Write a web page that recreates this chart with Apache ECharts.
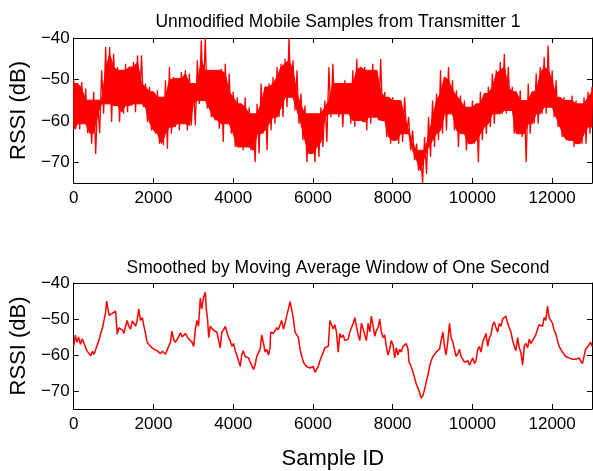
<!DOCTYPE html>
<html>
<head>
<meta charset="utf-8">
<script src="https://cdn.jsdelivr.net/npm/echarts@6/dist/echarts.min.js"></script>
<style>
  html, body { margin: 0; padding: 0; background: #fff; }
  #chart { width: 593px; height: 471px; }
</style>
</head>
<body>
<div id="chart"></div>
<script>
// Raw RSSI: upper and lower extent of the noisy trace per 100-sample column (dB)
const RAW_STEP = 100;
const rawHigh = [
  -50, -51, -50.6, -52.2, -55, -53, -55, -47.8, -42.2, -42.2,
  -43.8, -47, -47.8, -46.2, -47, -45.8, -44.2, -44.2, -51, -51.8,
  -53, -52.6, -54.3, -50.2, -47, -49.4, -49.8, -48.2, -47.8, -48.6,
  -51, -45.4, -40.6, -40, -47.8, -47.8, -47.8, -47.4, -46.2, -48.6,
  -53, -54.3, -55.9, -54.3, -56.7, -58.3, -55.9, -51, -51.8, -51,
  -49.4, -47, -46.2, -45, -40, -45.4, -47.8, -53.4, -56.3, -58.3,
  -58.3, -58.3, -56.7, -55.1, -47, -46.2, -51, -51, -50.2, -51,
  -47.8, -45, -47, -47, -47.8, -46.2, -47.8, -45, -53, -54.3,
  -54.3, -55.1, -55.1, -54.3, -59.1, -62.3, -65.5, -67.1, -63.9, -59.1,
  -55.1, -53.4, -47.8, -49.4, -47, -50.2, -52.6, -53.9, -55.1, -56.7,
  -55.1, -55.9, -53, -53.4, -51.8, -48.6, -47.8, -45.8, -43.8, -47,
  -51.8, -53, -52.6, -55.1, -51, -53, -48.6, -47, -44.6, -41.8,
  -47.8, -50.2, -54.3, -54.3, -55.1, -53.9, -55.1, -55.9, -54.3, -53,
  -51.8
];
const rawLow = [
  -62, -62, -60.7, -63, -65.5, -68, -63, -58.3, -55.9, -60.3,
  -56.3, -60.3, -58.3, -57.9, -56.3, -57.9, -55.9, -56.7, -60.3, -62.3,
  -63.1, -65.5, -65.9, -66.7, -63.1, -61.5, -62.3, -60.7, -62.3, -61.1,
  -61.1, -55.9, -55.1, -57, -59.1, -59.9, -61.9, -65.1, -60.7, -63.1,
  -66.3, -66.3, -67.1, -66.3, -67.1, -70, -67.9, -63.1, -67.1, -62.3,
  -60.7, -59.1, -59.1, -56.7, -54.3, -57.5, -60.7, -64.7, -70, -67.9,
  -70, -68.7, -66.3, -65.1, -59.1, -58.3, -59.1, -61.5, -58.3, -60.7,
  -61.5, -59.9, -60.3, -62.3, -60.7, -59.1, -59.9, -59.9, -63.9, -65.5,
  -64.7, -65.5, -65.1, -63.1, -67.1, -69.5, -72, -75, -72.8, -68.7,
  -66.3, -64.7, -63.1, -62.3, -58.3, -62.3, -66.3, -63.1, -67.1, -65.5,
  -65.5, -70, -64.7, -63.1, -61.5, -60.7, -58.3, -58.3, -58.3, -57.5,
  -63.1, -63.1, -63.9, -70, -63.1, -60.7, -60.7, -58.3, -58.3, -56.7,
  -59.1, -61.5, -63.9, -64.7, -64.7, -66.3, -65.5, -65.5, -65.5, -63.1,
  -61.5
];

// Smoothed RSSI (moving average over one second): sample IDs and values (dB)
const smoothIds = [
  0, 40, 80, 120, 170, 210, 250, 300, 340, 380, 425, 470, 510, 550, 590, 630, 675, 720, 760, 800,
  825, 860, 890, 925, 960, 1000, 1050, 1090, 1130, 1175, 1220, 1260, 1300, 1340, 1380, 1425, 1470, 1510, 1550, 1590,
  1630, 1675, 1720, 1760, 1800, 1840, 1880, 1925, 1970, 2010, 2050, 2090, 2130, 2175, 2220, 2260, 2300, 2340, 2380, 2425,
  2460, 2510, 2550, 2590, 2630, 2675, 2720, 2760, 2800, 2840, 2880, 2925, 2970, 3010, 3050, 3090, 3130, 3175, 3210, 3260,
  3300, 3325, 3360, 3385, 3425, 3470, 3510, 3550, 3590, 3635, 3675, 3715, 3760, 3800, 3840, 3885, 3925, 3965, 4010, 4050,
  4090, 4135, 4175, 4215, 4250, 4300, 4340, 4385, 4425, 4460, 4510, 4550, 4590, 4635, 4675, 4715, 4760, 4800, 4840, 4885,
  4925, 4940, 5010, 5050, 5090, 5130, 5175, 5215, 5260, 5300, 5340, 5385, 5425, 5465, 5510, 5550, 5590, 5635, 5675, 5715,
  5760, 5800, 5840, 5885, 5925, 5965, 6010, 6050, 6090, 6135, 6175, 6215, 6260, 6300, 6340, 6385, 6425, 6465, 6510, 6550,
  6590, 6635, 6675, 6715, 6760, 6800, 6840, 6885, 6925, 6965, 7010, 7050, 7090, 7135, 7175, 7215, 7260, 7300, 7340, 7385,
  7425, 7465, 7510, 7550, 7590, 7635, 7675, 7715, 7760, 7800, 7840, 7885, 7925, 7965, 8010, 8050, 8090, 8135, 8175, 8215,
  8260, 8300, 8340, 8385, 8410, 8465, 8510, 8550, 8590, 8635, 8675, 8715, 8760, 8800, 8840, 8885, 8925, 8965, 9010, 9050,
  9090, 9135, 9175, 9215, 9260, 9300, 9340, 9385, 9425, 9465, 9510, 9550, 9590, 9635, 9675, 9715, 9760, 9800, 9840, 9885,
  9925, 9965, 10010, 10050, 10090, 10135, 10175, 10215, 10260, 10300, 10340, 10385, 10425, 10465, 10510, 10550, 10590, 10635, 10675, 10715,
  10760, 10800, 10840, 10885, 10925, 10965, 11010, 11050, 11090, 11135, 11175, 11215, 11260, 11300, 11340, 11385, 11425, 11465, 11510, 11550,
  11590, 11635, 11675, 11715, 11760, 11800, 11840, 11885, 11925, 11965, 12010, 12050, 12090, 12135, 12175, 12215, 12260, 12300, 12340, 12385,
  12425, 12465, 12510, 12550, 12590, 12635, 12675, 12715, 12760, 12800, 12840, 12885, 12925, 12965, 13000
];
const smoothVals = [
  -57.5, -54.5, -56.5, -55, -57, -55.5, -56.5, -58, -59, -59.5, -60.2, -59, -59.8, -58.5, -58, -56, -54, -52.5, -50.4, -48,
  -45, -47.4, -49, -49.4, -48.5, -49, -47.8, -54.2, -52.5, -52, -53, -54, -52, -50.4, -52, -52.8, -50.5, -51.2, -52, -50.4,
  -47.2, -50.4, -49.6, -52, -54, -56.4, -57, -57.6, -58, -58.4, -58, -58.8, -59, -59.6, -59, -59.2, -59.8, -59.6, -57.6, -56.6,
  -53.4, -55.8, -56.5, -56.2, -55, -53.8, -55, -55.2, -54, -54.4, -55.5, -56, -56.5, -57.6, -52.8, -50.4, -52, -44.2, -47.2, -43.8,
  -42.6, -47.2, -50.4, -55.2, -52, -52.5, -53.2, -53, -53.6, -54, -58, -53.6, -53, -52, -51.6, -55.2, -56, -57.6, -56.8, -58.8,
  -60, -61.6, -63.2, -60, -58.8, -60.4, -60.4, -60.8, -62, -62.8, -64, -62.8, -60.4, -60, -58.4, -54.4, -56.8, -59.2, -58.4, -60,
  -58, -53.6, -54, -54.4, -52.4, -53, -52.8, -50.4, -52.8, -51.2, -49.2, -47.2, -45.2, -47.2, -50, -53.6, -54, -55.2, -58.4, -58.8,
  -62, -62.4, -63.2, -62.8, -63.6, -64, -63.2, -64.8, -64, -63.2, -61.6, -60.4, -59.2, -58, -58.4, -57.6, -50.4, -50.4, -52.8, -51.6,
  -53.6, -59.2, -54, -55.2, -54.4, -56, -56.4, -55.6, -53.6, -53.2, -51.2, -49.6, -52, -54.4, -56, -51.2, -52.8, -54.4, -56, -51.2,
  -53.6, -49.2, -52, -54.8, -53.2, -52.4, -50, -53.6, -55.2, -54.4, -57.6, -60, -58.4, -56, -57.2, -60.8, -58, -60, -58.4, -59.2,
  -57.6, -58, -56.8, -58.4, -62, -63.2, -64.8, -66.4, -68, -69.2, -70.4, -72, -71.2, -69.6, -67.6, -65.6, -63.2, -61.6, -60.4, -60,
  -59.2, -58.8, -58.4, -56, -53.6, -57.6, -60, -56, -51.2, -55.2, -56.4, -58.4, -60.4, -59.6, -58.4, -60.4, -60.8, -62, -62.4, -61.6,
  -62.8, -63.2, -60.8, -62.4, -61.6, -58.4, -57.6, -59.2, -56.4, -55.2, -54, -57.6, -55.2, -54.4, -51.6, -50.8, -52.4, -53.6, -51.2, -52,
  -50, -50.4, -49.2, -51.2, -50.8, -53.6, -56, -57.6, -58.8, -55.2, -58, -59.2, -62.8, -57.6, -56.8, -58, -55.6, -56.8, -56, -55.2,
  -54.4, -52.8, -51.6, -51.2, -52, -49.6, -50.4, -46.4, -49.6, -49.2, -51.2, -53.2, -54, -56, -57.6, -58.4, -59.2, -59.6, -60.4, -60,
  -60.8, -60.4, -61.2, -60.8, -61.2, -61.6, -60.8, -61.6, -62.4, -60.4, -58.4, -58, -57.2, -56.4, -57.6
];

// Axis ticks and labels
const xMin = 0, xMax = 13000, xStep = 2000;
const yMin = -75, yMax = -40;
const yTicks = [-70, -60, -50, -40];

const titles = [
  'Unmodified Mobile Samples from Transmitter 1',
  'Smoothed by Moving Average Window of One Second'
];
const yLabel = 'RSSI (dB)';
const xLabel = 'Sample ID';

// Zigzag between each column's high and low: the spikes of the raw trace
const rawZigzag = [];
rawHigh.forEach((hi, i) => {
  rawZigzag.push([i * RAW_STEP, hi]);
  rawZigzag.push([i * RAW_STEP + RAW_STEP / 2, rawLow[i]]);
});
const smoothPts = smoothIds.map((s, i) => [s, smoothVals[i]]);

const RED = '#ff0000';
const FONT = 'Liberation Sans, Arial, Helvetica, sans-serif';
const TICK_FS = 17;
const grids = [
  { left: 73, right: 1, top: 38, height: 145 },
  { left: 73, right: 1, top: 283, height: 146 }
];

// Dense core of the raw trace: the part of each column that its neighbours
// also cover, filled solid; the isolated extremes stay as thin spikes.
function renderCore(params, api) {
  const n = rawHigh.length;
  const top = [], bot = [];
  for (let i = 0; i < n; i++) {
    const a = Math.max(0, i - 1), b = Math.min(n - 1, i + 1);
    const hiCore = Math.min(rawHigh[a], rawHigh[i], rawHigh[b]);
    const loCore = Math.max(rawLow[a], rawLow[i], rawLow[b]);
    top.push(api.coord([i * RAW_STEP, hiCore]));
    bot.push(api.coord([i * RAW_STEP, loCore]));
  }
  return {
    type: 'polygon',
    shape: { points: top.concat(bot.reverse()) },
    style: { fill: RED, stroke: RED, lineWidth: 1 }
  };
}

function xAxes(gi, withName) {
  return [
    {
      type: 'value', gridIndex: gi, min: xMin, max: xMax, interval: xStep,
      position: 'bottom',
      axisLine: { show: true, onZero: false, lineStyle: { color: '#000', width: 1 } },
      axisTick: { show: true, inside: true, length: 5, lineStyle: { color: '#000' } },
      axisLabel: { color: '#000', fontSize: TICK_FS, fontFamily: FONT, margin: 7,
        formatter: v => String(v) },
      splitLine: { show: false },
      name: withName ? xLabel : '',
      nameLocation: 'middle', nameGap: 39,
      nameTextStyle: { color: '#000', fontSize: 22, fontFamily: FONT }
    },
    {
      type: 'value', gridIndex: gi, min: xMin, max: xMax, interval: xStep,
      position: 'top',
      axisLine: { show: true, onZero: false, lineStyle: { color: '#000', width: 1 } },
      axisTick: { show: true, inside: true, length: 5, lineStyle: { color: '#000' } },
      axisLabel: { show: false },
      splitLine: { show: false }
    }
  ];
}
function yAxes(gi) {
  return [
    {
      type: 'value', gridIndex: gi, min: yMin, max: yMax,
      position: 'left',
      axisLine: { show: true, onZero: false, lineStyle: { color: '#000', width: 1 } },
      axisTick: { show: true, inside: true, length: 5, customValues: yTicks, lineStyle: { color: '#000' } },
      axisLabel: {
        color: '#000', fontSize: TICK_FS, fontFamily: FONT, margin: 4,
        customValues: yTicks,
        formatter: v => String(v).replace('-', '\u2212')
      },
      splitLine: { show: false },
      name: yLabel, nameLocation: 'middle', nameGap: 26, nameRotate: 90,
      nameTextStyle: { color: '#000', fontSize: 22, fontFamily: FONT }
    },
    {
      type: 'value', gridIndex: gi, min: yMin, max: yMax,
      position: 'right',
      axisLine: { show: true, onZero: false, lineStyle: { color: '#000', width: 1 } },
      axisTick: { show: true, inside: true, length: 5, customValues: yTicks, lineStyle: { color: '#000' } },
      axisLabel: { show: false },
      splitLine: { show: false }
    }
  ];
}

const chart = echarts.init(document.getElementById('chart'), null, { renderer: 'canvas' });
chart.setOption({
  animation: false,
  backgroundColor: '#fff',
  title: [
    { text: titles[0], left: 333, top: 8, textAlign: 'center',
      textStyle: { color: '#000', fontSize: 17.5, fontWeight: 'normal', fontFamily: FONT } },
    { text: titles[1], left: 333, top: 254, textAlign: 'center',
      textStyle: { color: '#000', fontSize: 17.5, fontWeight: 'normal', fontFamily: FONT } }
  ],
  grid: grids,
  xAxis: [...xAxes(0, false), ...xAxes(1, true)],
  yAxis: [...yAxes(0), ...yAxes(1)],
  series: [
    {
      type: 'custom', xAxisIndex: 0, yAxisIndex: 0, data: [[0, rawHigh[0]]],
      renderItem: renderCore, clip: true, silent: true
    },
    {
      type: 'line', xAxisIndex: 0, yAxisIndex: 0, data: rawZigzag,
      showSymbol: false, clip: true,
      lineStyle: { color: RED, width: 1.3 }
    },
    {
      type: 'line', xAxisIndex: 2, yAxisIndex: 2, data: smoothPts,
      showSymbol: false, clip: true,
      lineStyle: { color: RED, width: 1.5 }
    }
  ]
});
</script>
</body>
</html>
